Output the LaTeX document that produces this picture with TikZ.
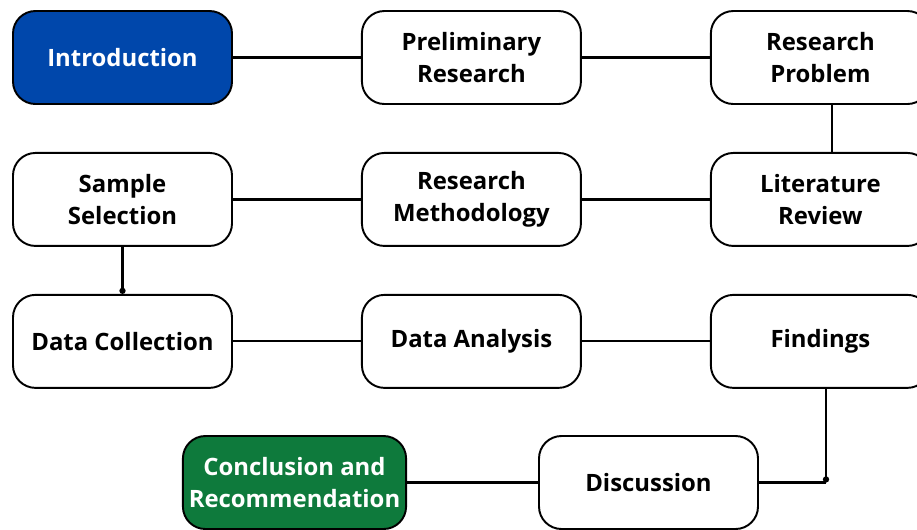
\documentclass[tikz,border=0pt]{standalone}
\usepackage{fontspec}
\setmainfont{Open Sans}
\usetikzlibrary{positioning,arrows.meta}
\definecolor{introblue}{HTML}{0047AB}
\definecolor{endgreen}{HTML}{0E7A3C}

\begin{document}
\begin{tikzpicture}
          [stepbox/.style={rectangle, draw, rounded corners=0.45cm, line width=1.1pt, align=center,
            minimum width=4.38cm, minimum height=1.86cm, font=\bfseries\fontsize{13.6}{18.2}\selectfont},
           node distance=0.94cm and 2.56cm]
        \tikzset{
          link/.style={line width=1.2pt},
          dotend/.style={line width=1.2pt, -{Circle[length=3.5pt]}}
        }
          \useasboundingbox (0,0) rectangle (18.34,-10.58);
          % row 1
          \node [stepbox, fill=introblue, text=white] (intro) at (2.45,-1.15) {Introduction};
          \node [stepbox, right=of intro] (prelim) {Preliminary\\Research};
          \node [stepbox, right=of prelim] (problem) {Research\\Problem};
          % row 2
          \node [stepbox, below=of intro] (sample) {Sample\\Selection};
          \node [stepbox, below=of prelim] (method) {Research\\Methodology};
          \node [stepbox, below=of problem] (litrev) {Literature\\Review};
          % row 3
          \node [stepbox, below=of sample] (collect) {Data Collection};
          \node [stepbox, below=of method] (analysis) {Data Analysis};
          \node [stepbox, below=of litrev] (findings) {Findings};
          % row 4
          \node [stepbox, fill=endgreen, text=white] (concl) at (5.89,-9.65) {Conclusion and\\Recommendation};
          \node [stepbox] (discuss) at (12.97,-9.65) {Discussion};
          \coordinate (bend) at (16.52,-9.65);

          \draw [link] (intro) -- (prelim);
          \draw [link] (prelim) -- (problem);
          \draw [link] ([xshift=0.24cm]problem.south) -- ([xshift=0.24cm]litrev.north);
          \draw [link] (litrev) -- (method);
          \draw [link] (method) -- (sample);
          \draw [dotend] (sample) -- (collect);
          \draw [link] (collect) -- (analysis);
          \draw [link] (analysis) -- (findings);
          \draw [dotend] (findings.south -| bend) -- (bend);
          \draw [link] (bend) -- (discuss);
          \draw [link] (discuss) -- (concl);
        \end{tikzpicture}
\end{document}
